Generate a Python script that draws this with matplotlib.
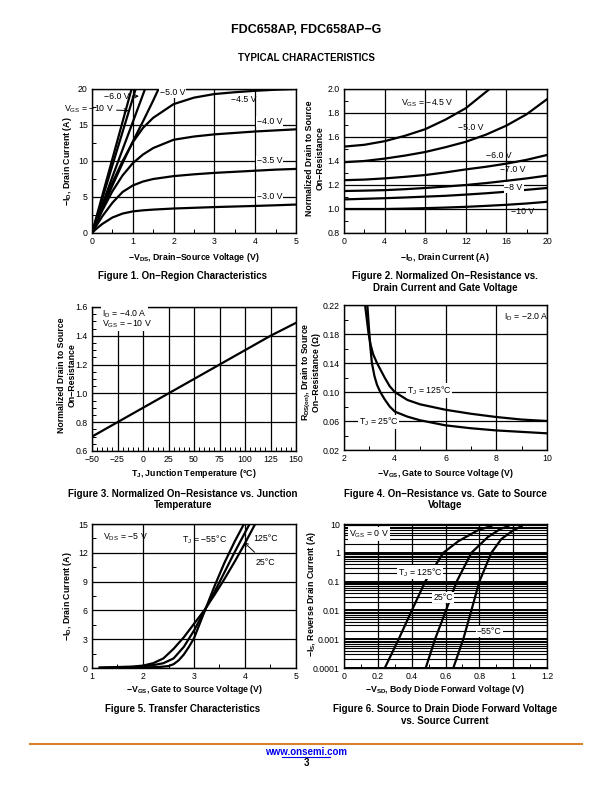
import numpy as np
import matplotlib
matplotlib.use("Agg")
import matplotlib.pyplot as plt
from matplotlib.ticker import MultipleLocator, FixedLocator, LogLocator, NullFormatter, FixedFormatter, FormatStrFormatter

plt.rcParams['font.family'] = ['Liberation Sans', 'DejaVu Sans']
plt.rcParams['mathtext.fontset'] = 'custom'
plt.rcParams['mathtext.rm'] = 'Liberation Sans'
plt.rcParams['mathtext.default'] = 'regular'

# ---------------- data ----------------
# Fig 1: On-region characteristics  (-VDS, -ID) for each VGS
f1_vds_lin = [0.0, 0.25, 0.5, 0.75, 1.0, 1.25, 1.5, 1.63]
f1_id_m5 = [0.0, 3.3, 6.6, 9.7, 12.7, 15.5, 18.4, 20.0]
f1_x_m6 = [0.0, 0.5, 1.0, 1.30]
f1_y_m6 = [0.0, 7.8, 15.4, 20.0]
f1_x_m8 = [0.0, 0.5, 1.07]
f1_y_m8 = [0.0, 9.4, 20.0]
f1_x_m10 = [0.0, 0.5, 0.97]
f1_y_m10 = [0.0, 10.3, 20.0]
f1_vds = [0.0, 0.1, 0.25, 0.5, 0.75, 1.0, 1.25, 1.5, 2.0, 2.5, 3.0, 3.5, 4.0, 4.5, 5.0]
f1_id_m45 = [0.0, 1.5, 3.6, 7.0, 10.0, 12.6, 14.6, 16.0, 17.9, 18.8, 19.3, 19.55, 19.75, 19.9, 20.0]
f1_id_m40 = [0.0, 1.3, 3.1, 5.8, 8.0, 9.7, 10.9, 11.8, 12.95, 13.4, 13.7, 13.9, 14.1, 14.25, 14.4]
f1_id_m35 = [0.0, 0.95, 2.3, 4.2, 5.7, 6.6, 7.15, 7.5, 7.9, 8.15, 8.35, 8.5, 8.65, 8.8, 8.9]
f1_id_m30 = [0.0, 0.55, 1.25, 2.15, 2.7, 3.0, 3.15, 3.25, 3.4, 3.5, 3.6, 3.68, 3.76, 3.85, 3.95]

# Fig 2: normalized on-resistance vs drain current
f2_id = [0, 2, 4, 6, 8, 10, 12, 14, 16, 18, 20]
f2_m45 = [1.52, 1.535, 1.565, 1.61, 1.665, 1.745, 1.84, 1.99]
f2_m50 = [1.39, 1.40, 1.42, 1.445, 1.475, 1.515, 1.56, 1.62, 1.695, 1.79, 1.915]
f2_m60 = [1.24, 1.245, 1.255, 1.268, 1.283, 1.305, 1.33, 1.352, 1.378, 1.41, 1.45]
f2_m70 = [1.15, 1.153, 1.157, 1.165, 1.175, 1.187, 1.20, 1.216, 1.235, 1.255, 1.278]
f2_m80 = [1.08, 1.085, 1.09, 1.096, 1.103, 1.11, 1.12, 1.131, 1.144, 1.16, 1.175]
f2_m100 = [1.0, 1.0, 1.0, 1.003, 1.007, 1.012, 1.018, 1.026, 1.035, 1.046, 1.06]

# Fig 3: normalized on-resistance vs junction temperature
f3_tj = [-50, -25, 0, 25, 50, 75, 100, 125, 150]
f3_r = [0.70, 0.80, 0.90, 1.00, 1.10, 1.20, 1.30, 1.40, 1.49]

# Fig 4: RDS(on) vs VGS
f4_v25 = [2.92, 2.97, 3.03, 3.1, 3.2, 3.3, 3.43, 3.6, 3.8, 4.0, 4.5, 5.0, 6.0, 7.0, 8.0, 9.0, 10.0]
f4_r25 = [0.22, 0.195, 0.165, 0.14, 0.122, 0.11, 0.10, 0.09, 0.08, 0.073, 0.066, 0.061, 0.054, 0.050, 0.047, 0.045, 0.043]
f4_v125 = [2.83, 2.9, 2.97, 3.05, 3.15, 3.3, 3.45, 3.6, 3.8, 4.0, 4.5, 5.0, 6.0, 7.0, 8.0, 9.0, 10.0]
f4_r125 = [0.22, 0.20, 0.18, 0.165, 0.152, 0.14, 0.13, 0.12, 0.108, 0.10, 0.089, 0.083, 0.0755, 0.070, 0.0655, 0.062, 0.060]

# Fig 5: transfer characteristics
f5_v125 = [1.15, 1.5, 1.8, 2.0, 2.2, 2.4, 2.6, 2.8, 3.0, 3.2, 3.4, 3.6, 3.8, 4.0, 4.2]
f5_i125 = [0.05, 0.1, 0.15, 0.25, 0.5, 1.0, 2.0, 3.2, 4.6, 6.0, 7.6, 9.3, 11.1, 13.0, 15.0]
f5_v25 = [1.15, 1.5, 1.8, 2.0, 2.2, 2.4, 2.6, 2.8, 3.0, 3.2, 3.4, 3.6, 3.8, 4.09]
f5_i25 = [0.02, 0.05, 0.1, 0.18, 0.3, 0.5, 1.0, 2.2, 3.9, 5.9, 7.9, 10.0, 12.1, 15.0]
f5_vm55 = [1.3, 2.0, 2.3, 2.5, 2.6, 2.7, 2.8, 2.9, 3.0, 3.2, 3.4, 3.6, 3.8, 3.98]
f5_im55 = [0.0, 0.05, 0.1, 0.2, 0.4, 0.8, 1.4, 2.2, 3.1, 5.8, 8.5, 11.0, 13.2, 15.0]

# Fig 6: body diode forward voltage vs source current
f6_v125 = [0.241, 0.323, 0.401, 0.48, 0.587, 0.675, 0.79, 0.87]
f6_i125 = [1e-4, 1e-3, 1e-2, 1e-1, 1.0, 2.5, 6.0, 8.5]
f6_v25 = [0.483, 0.538, 0.603, 0.666, 0.753, 0.85, 0.92, 0.97]
f6_i25 = [1e-4, 1e-3, 1e-2, 1e-1, 1.0, 3.5, 6.5, 8.5]
f6_vm55 = [0.646, 0.705, 0.753, 0.80, 0.871, 0.93, 1.0, 1.05]
f6_im55 = [1e-4, 1e-3, 1e-2, 1e-1, 1.0, 3.0, 6.0, 8.5]

W, H = 612, 792
fig = plt.figure(figsize=(W / 100, H / 100), dpi=100)

def ax_at(x0, y0, x1, y1):
    return fig.add_axes([x0 / W, 1 - y1 / H, (x1 - x0) / W, (y1 - y0) / H])

def ftext(x, y, s, **kw):
    kw.setdefault('ha', 'center')
    kw.setdefault('va', 'center')
    fig.text(x / W, 1 - y / H, s, **kw)

def ylab(x, y, s):
    ftext(x, y, s, fontsize=LFS, fontweight='bold', rotation=90)

LW = 1.6
GRID = dict(color='black', linewidth=0.9)
TFS = 6.3
LFS = 6.3
BOX = dict(facecolor='white', edgecolor='none', pad=0.6)

def style(ax):
    for s in ax.spines.values():
        s.set_linewidth(1.0)
    ax.tick_params(which='both', direction='in', top=False, right=False,
                   labelsize=TFS, pad=3)
    ax.tick_params(which='major', length=0)
    ax.tick_params(which='minor', length=3, width=0.7)
    ax.grid(True, which='major', **GRID)
    ax.set_axisbelow(True)

# ---------- Header ----------
ftext(306, 30, 'FDC658AP, FDC658AP−G', fontsize=9, fontweight='bold')
ftext(306, 58, 'TYPICAL CHARACTERISTICS', fontsize=7, fontweight='bold')

# ---------- Figure 1 ----------
ax = ax_at(92, 89, 296, 233)
ax.set_xlim(0, 5); ax.set_ylim(0, 20)
ax.xaxis.set_major_locator(MultipleLocator(1)); ax.xaxis.set_minor_locator(MultipleLocator(0.5))
ax.yaxis.set_major_locator(MultipleLocator(5)); ax.yaxis.set_minor_locator(MultipleLocator(2.5))
style(ax)
for xs, ys in [(f1_x_m10, f1_y_m10), (f1_x_m8, f1_y_m8), (f1_x_m6, f1_y_m6), (f1_vds_lin, f1_id_m5),
               (f1_vds, f1_id_m45), (f1_vds, f1_id_m40), (f1_vds, f1_id_m35), (f1_vds, f1_id_m30)]:
    ax.plot(xs, ys, color='black', lw=LW, clip_on=True)
ax.annotate('−6.0 V', xy=(1.15, 19.0), xytext=(0.6, 19.0), fontsize=LFS, ha='center', va='center',
            arrowprops=dict(arrowstyle='->', lw=0.7, color='black', shrinkA=0, shrinkB=0))
ax.annotate('V$_{GS}$ = −10 V', xy=(0.9, 17.0), xytext=(-0.08, 17.2), fontsize=LFS, ha='center', va='center',
            arrowprops=dict(arrowstyle='->', lw=0.7, color='black', shrinkA=0, shrinkB=0))
ax.text(1.98, 19.5, '−5.0 V', fontsize=LFS, ha='center', va='center', bbox=BOX)
ax.text(3.73, 18.6, '−4.5 V', fontsize=LFS, ha='center', va='center')
ax.text(4.35, 15.5, '−4.0 V', fontsize=LFS, ha='center', va='center', bbox=BOX)
ax.text(4.35, 10.0, '−3.5 V', fontsize=LFS, ha='center', va='center', bbox=BOX)
ax.text(4.35, 5.0, '−3.0 V', fontsize=LFS, ha='center', va='center', bbox=BOX)
ylab(67, 161, '−I$_D$, Drain Current (A)')
ftext(194, 257, '−V$_{DS}$, Drain−Source Voltage (V)', fontsize=LFS, fontweight='bold')
ftext(183, 276, 'Figure 1. On−Region Characteristics', fontsize=7, fontweight='bold')

# ---------- Figure 2 ----------
ax = ax_at(344, 89, 547, 233)
ax.set_xlim(0, 20); ax.set_ylim(0.8, 2.0)
ax.xaxis.set_major_locator(MultipleLocator(4)); ax.xaxis.set_minor_locator(MultipleLocator(2))
ax.yaxis.set_major_locator(MultipleLocator(0.2)); ax.yaxis.set_minor_locator(MultipleLocator(0.1))
ax.yaxis.set_major_formatter(FormatStrFormatter('%.1f'))
style(ax)
ax.plot(f2_id[:len(f2_m45) - 1] + [14.2], f2_m45, color='black', lw=LW)
for ys in [f2_m50, f2_m60, f2_m70, f2_m80, f2_m100]:
    ax.plot(f2_id, ys, color='black', lw=LW)
ax.text(8.2, 1.883, 'V$_{GS}$ = −4.5 V', fontsize=LFS, ha='center', va='center')
ax.text(12.5, 1.68, '−5.0 V', fontsize=LFS, ha='center', va='center')
ax.text(15.3, 1.445, '−6.0 V', fontsize=LFS, ha='center', va='center')
ax.text(16.6, 1.325, '−7.0 V', fontsize=LFS, ha='center', va='center')
ax.text(16.7, 1.18, '−8 V', fontsize=LFS, ha='center', va='center', bbox=BOX)
ax.text(17.6, 0.975, '−10 V', fontsize=LFS, ha='center', va='center')
ylab(310, 158, 'Normalized Drain to Source')
ylab(320, 158, 'On−Resistance')
ftext(445, 257, '−I$_D$, Drain Current (A)', fontsize=LFS, fontweight='bold')
ftext(445, 276, 'Figure 2. Normalized On−Resistance vs.', fontsize=7, fontweight='bold')
ftext(445, 288, 'Drain Current and Gate Voltage', fontsize=7, fontweight='bold')

# ---------- Figure 3 ----------
ax = ax_at(92, 307, 296, 451)
ax.set_xlim(-50, 150); ax.set_ylim(0.6, 1.6)
ax.xaxis.set_major_locator(MultipleLocator(25)); ax.xaxis.set_minor_locator(MultipleLocator(5))
ax.yaxis.set_major_locator(MultipleLocator(0.2)); ax.yaxis.set_minor_locator(MultipleLocator(0.05))
ax.yaxis.set_major_formatter(FormatStrFormatter('%.1f'))
style(ax)
ax.plot(f3_tj, f3_r, color='black', lw=LW)
ax.text(-40, 1.555, 'I$_D$ = −4.0 A', fontsize=LFS, ha='left', va='center', bbox=BOX)
ax.text(-40, 1.48, 'V$_{GS}$ = −10 V', fontsize=LFS, ha='left', va='center', bbox=BOX)
ylab(62, 375, 'Normalized Drain to Source')
ylab(72, 375, 'On−Resistance')
ftext(194, 474, 'T$_J$, Junction Temperature (°C)', fontsize=LFS, fontweight='bold')
ftext(183, 494, 'Figure 3. Normalized On−Resistance vs. Junction', fontsize=7, fontweight='bold')
ftext(183, 505, 'Temperature', fontsize=7, fontweight='bold')

# ---------- Figure 4 ----------
ax = ax_at(344, 305, 547, 450)
ax.set_xlim(2, 10); ax.set_ylim(0.02, 0.22)
ax.xaxis.set_major_locator(MultipleLocator(2)); ax.xaxis.set_minor_locator(MultipleLocator(1))
ax.yaxis.set_major_locator(FixedLocator([0.02, 0.06, 0.10, 0.14, 0.18, 0.22]))
ax.yaxis.set_minor_locator(MultipleLocator(0.02))
ax.yaxis.set_major_formatter(FormatStrFormatter('%.2f'))
style(ax)
ax.plot(f4_v25, f4_r25, color='black', lw=LW)
ax.plot(f4_v125, f4_r125, color='black', lw=LW)
ax.text(5.35, 0.102, 'T$_J$ = 125°C', fontsize=LFS, ha='center', va='center', bbox=BOX)
ax.text(3.36, 0.059, 'T$_J$ = 25°C', fontsize=LFS, ha='center', va='center', bbox=BOX)
ax.text(9.2, 0.204, 'I$_D$ = −2.0 A', fontsize=LFS, ha='center', va='center')
ylab(306, 372, 'R$_{DS(on)}$, Drain to Source')
ylab(316, 372, 'On−Resistance (Ω)')
ftext(445, 474, '−V$_{GS}$, Gate to Source Voltage (V)', fontsize=LFS, fontweight='bold')
ftext(445, 494, 'Figure 4. On−Resistance vs. Gate to Source', fontsize=7, fontweight='bold')
ftext(445, 505, 'Voltage', fontsize=7, fontweight='bold')

# ---------- Figure 5 ----------
ax = ax_at(92, 524, 296, 668)
ax.set_xlim(1, 5); ax.set_ylim(0, 15)
ax.xaxis.set_major_locator(MultipleLocator(1)); ax.xaxis.set_minor_locator(MultipleLocator(0.5))
ax.yaxis.set_major_locator(MultipleLocator(3)); ax.yaxis.set_minor_locator(MultipleLocator(1.5))
style(ax)
ax.plot(f5_v125, f5_i125, color='black', lw=LW)
ax.plot(f5_v25, f5_i25, color='black', lw=LW)
ax.plot(f5_vm55, f5_im55, color='black', lw=LW)
ax.text(1.65, 13.6, 'V$_{DS}$ = −5 V', fontsize=LFS, ha='center', va='center')
ax.text(3.2, 13.4, 'T$_J$ = −55°C', fontsize=LFS, ha='center', va='center')
ax.text(4.4, 13.5, '125°C', fontsize=LFS, ha='center', va='center')
ax.annotate('25°C', xy=(3.98, 13.1), xytext=(4.4, 11.0), fontsize=LFS, ha='center', va='center',
            arrowprops=dict(arrowstyle='->', lw=0.7, color='black', shrinkA=3, shrinkB=0))
ylab(68, 596, '−I$_D$, Drain Current (A)')
ftext(194, 690, '−V$_{GS}$, Gate to Source Voltage (V)', fontsize=LFS, fontweight='bold')
ftext(183, 709, 'Figure 5. Transfer Characteristics', fontsize=7, fontweight='bold')

# ---------- Figure 6 ----------
ax = ax_at(344, 524, 547, 668)
ax.set_yscale('log')
ax.set_xlim(0, 1.2); ax.set_ylim(1e-4, 10)
ax.xaxis.set_major_locator(MultipleLocator(0.2)); ax.xaxis.set_minor_locator(MultipleLocator(0.1))
ax.xaxis.set_major_formatter(FormatStrFormatter('%g'))
ax.yaxis.set_major_locator(FixedLocator([1e-4, 1e-3, 1e-2, 1e-1, 1, 10]))
ax.yaxis.set_major_formatter(FixedFormatter(['0.0001', '0.001', '0.01', '0.1', '1', '10']))
ax.yaxis.set_minor_locator(LogLocator(base=10, subs=np.arange(2, 10), numticks=20))
ax.yaxis.set_minor_formatter(NullFormatter())
style(ax)
ax.tick_params(axis='y', which='minor', length=0)
ax.grid(True, which='minor', axis='y', color='black', linewidth=0.8)
ax.grid(True, which='major', axis='y', color='black', linewidth=1.4)
ax.plot(f6_v125, f6_i125, color='black', lw=LW)
ax.plot(f6_v25, f6_i25, color='black', lw=LW)
ax.plot(f6_vm55, f6_im55, color='black', lw=LW)
ax.text(0.15, 4.5, 'V$_{GS}$ = 0 V', fontsize=LFS, ha='center', va='center', bbox=BOX)
ax.text(0.45, 0.21, 'T$_J$ = 125°C', fontsize=LFS, ha='center', va='center', bbox=BOX)
ax.text(0.585, 0.028, '25°C', fontsize=LFS, ha='center', va='center', bbox=BOX)
ax.text(0.86, 0.0018, '−55°C', fontsize=LFS, ha='center', va='center', bbox=BOX)
ylab(311, 594, '−I$_S$, Reverse Drain Current (A)')
ftext(445, 690, '−V$_{SD}$, Body Diode Forward Voltage (V)', fontsize=LFS, fontweight='bold')
ftext(445, 709, 'Figure 6. Source to Drain Diode Forward Voltage', fontsize=7, fontweight='bold')
ftext(445, 721, 'vs. Source Current', fontsize=7, fontweight='bold')

# ---------- Footer ----------
fig.add_artist(plt.Line2D([30 / W, 582 / W], [1 - 744 / H, 1 - 744 / H], color='#D9822B', lw=1.5))
ftext(306, 752, 'www.onsemi.com', fontsize=7, fontweight='bold', color='#0000EE')
fig.add_artist(plt.Line2D([282 / W, 330 / W], [1 - 757 / H, 1 - 757 / H], color='#0000EE', lw=0.8))
ftext(306, 763, '3', fontsize=7, fontweight='bold')

fig.savefig('out.png', dpi=100)
